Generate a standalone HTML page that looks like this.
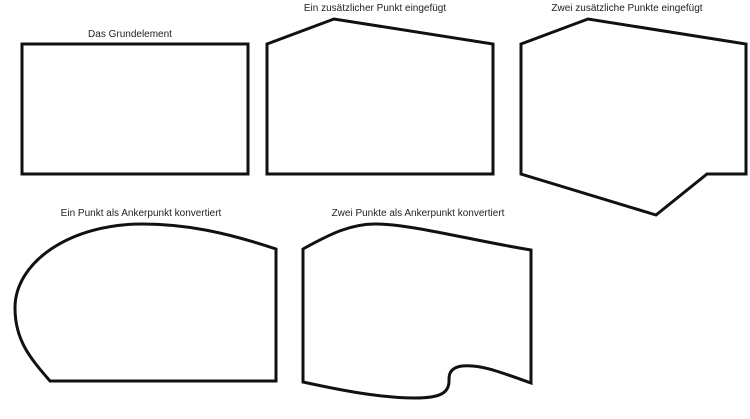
<!DOCTYPE html>
<html><head><meta charset="utf-8"><style>
html,body{margin:0;padding:0;background:#fff;width:750px;height:419px;overflow:hidden}
text{font-family:"Liberation Sans",sans-serif;font-size:10px;fill:#222}
</style></head><body>
<svg width="750" height="419" viewBox="0 0 750 419" xmlns="http://www.w3.org/2000/svg">
<g fill="none" stroke="#111" stroke-width="3" stroke-linejoin="miter">
<rect x="22" y="44" width="226" height="130"/>
<path d="M267,44 L334,19 L493,44 L493,174 L267,174 Z"/>
<path d="M521,44 L588,19 L746,44 L746,174 L707,174 L656,215 L521,174 Z"/>
<path d="M50,381 L276,381 L276,249 C225,232 185,224 142,224 C70,224 15,262 15,308 C15,340 30,358 50,381 Z"/>
<path d="M303,382 L303,249 C330,234 352,223 378,224 C415,225 470,240 531,250 L531,383 C500,372 480,364 462,366 C448,368 449,377 449,381 C449,393 440,398 415,398 C380,398 340,390 303,382 Z"/>
</g>
<text x="130" y="37" text-anchor="middle">Das Grundelement</text>
<text x="375" y="11" text-anchor="middle">Ein zusätzlicher Punkt eingefügt</text>
<text x="627" y="11" text-anchor="middle">Zwei zusätzliche Punkte eingefügt</text>
<text x="141" y="216" text-anchor="middle">Ein Punkt als Ankerpunkt konvertiert</text>
<text x="418" y="216" text-anchor="middle">Zwei Punkte als Ankerpunkt konvertiert</text>
</svg>
</body></html>
